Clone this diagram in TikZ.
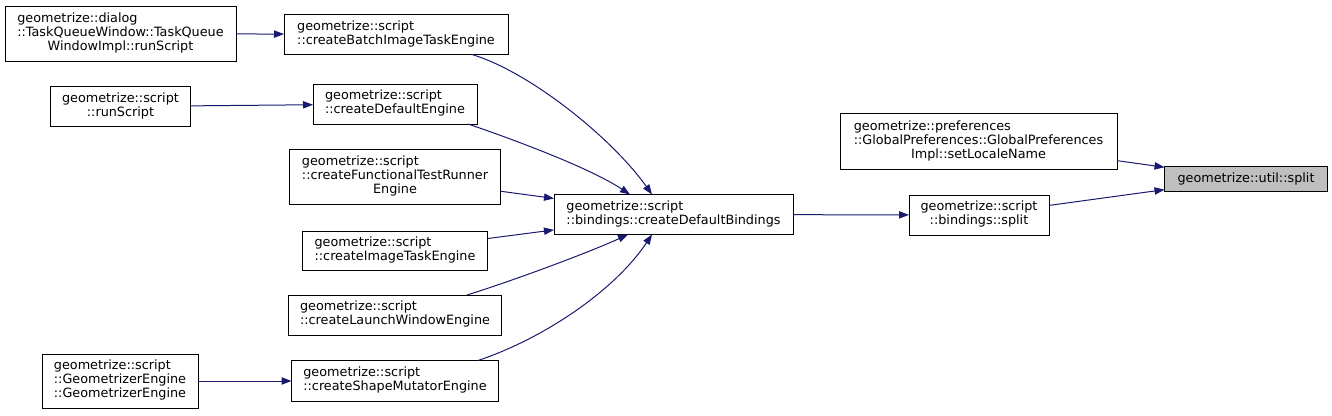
\documentclass[tikz,border=0pt]{standalone}
\usepackage{fontspec}
\setmainfont{DejaVu Sans}
\usetikzlibrary{arrows.meta,calc}
\definecolor{edgeblue}{HTML}{191970}
\definecolor{hlgray}{HTML}{BFBFBF}
\newcommand{\linesii}[2]{\begin{tabular}{@{}l@{}}#1\\\multicolumn{1}{@{}c@{}}{#2}\end{tabular}}
\newcommand{\linesiii}[3]{\begin{tabular}{@{}l@{}}#1\\#2\\\multicolumn{1}{@{}c@{}}{#3}\end{tabular}}
\begin{document}
\begin{tikzpicture}[x=0.75pt,y=-0.75pt,
  fn/.style={draw=black,line width=0.75pt,fill=white,inner sep=0pt,outer sep=0pt,
    font=\fontsize{9.6}{10.5}\selectfont,align=center},
  callarrow/.style={draw=edgeblue,line width=0.75pt,-{Triangle[length=7.5pt,width=5.5pt]}}]
\useasboundingbox (0,0) rectangle (1332,415);
\node[fn,minimum width=231*0.75pt,minimum height=55*0.75pt] (dlg) at (120.5,33.5)
  {\linesiii{geometrize::dialog}{::TaskQueueWindow::TaskQueue}{WindowImpl::runScript}};
\node[fn,minimum width=224*0.75pt,minimum height=40*0.75pt] (batch) at (396,34.5)
  {\linesii{geometrize::script}{::createBatchImageTaskEngine}};
\node[fn,minimum width=140*0.75pt,minimum height=40*0.75pt] (run) at (120.5,106.5)
  {\linesii{geometrize::script}{::runScript}};
\node[fn,minimum width=164*0.75pt,minimum height=40*0.75pt] (defeng) at (395,104)
  {\linesii{geometrize::script}{::createDefaultEngine}};
\node[fn,minimum width=211*0.75pt,minimum height=55*0.75pt] (func) at (395,177)
  {\linesiii{geometrize::script}{::createFunctionalTestRunner}{Engine}};
\node[fn,minimum width=185*0.75pt,minimum height=39*0.75pt] (imgtask) at (395,250.5)
  {\linesii{geometrize::script}{::createImageTaskEngine}};
\node[fn,minimum width=213*0.75pt,minimum height=40*0.75pt] (launch) at (395,315)
  {\linesii{geometrize::script}{::createLaunchWindowEngine}};
\node[fn,minimum width=207*0.75pt,minimum height=41*0.75pt] (shape) at (395,381)
  {\linesii{geometrize::script}{::createShapeMutatorEngine}};
\node[fn,minimum width=156*0.75pt,minimum height=54*0.75pt] (geng) at (120,381)
  {\linesiii{geometrize::script}{::GeometrizerEngine}{::GeometrizerEngine}};
\node[fn,minimum width=239*0.75pt,minimum height=40*0.75pt] (bind) at (673.5,214.5)
  {\linesii{geometrize::script}{::bindings::createDefaultBindings}};
\node[fn,minimum width=140*0.75pt,minimum height=40*0.75pt] (bsplit) at (979,215)
  {\linesii{geometrize::script}{::bindings::split}};
\node[fn,minimum width=277*0.75pt,minimum height=56*0.75pt] (locale) at (978.5,141.5)
  {\linesiii{geometrize::preferences}{::GlobalPreferences::GlobalPreferences}{Impl::setLocaleName}};
\node[fn,fill=hlgray,minimum width=163*0.75pt,minimum height=25*0.75pt] (usplit) at (1246,178.5)
  {geometrize::util::split};
% edges
\draw[callarrow] (dlg) -- (batch);
\draw[callarrow] (run) -- (defeng);
\draw[callarrow] (geng) -- (shape);
\draw[callarrow] ($(batch.south)+(76,0)$) .. controls (530,72) and (612,138) .. ($(bind.north)+(-21.5,0)$);
\draw[callarrow] ($(defeng.south)+(73,0)$) .. controls (515,140) and (590,168) .. ($(bind.north)+(-43.5,0)$);
\draw[callarrow] (func) -- (bind);
\draw[callarrow] (imgtask) -- (bind);
\draw[callarrow] ($(launch.north)+(72,0)$) .. controls (515,280) and (590,252) .. ($(bind.south)+(-45.5,0)$);
\draw[callarrow] ($(shape.north)+(83,0)$) .. controls (545,338) and (615,290) .. ($(bind.south)+(-21.5,0)$);
\draw[callarrow] (bind) -- (bsplit);
\draw[callarrow] (locale) -- (usplit);
\draw[callarrow] (bsplit) -- (usplit);
\end{tikzpicture}
\end{document}
